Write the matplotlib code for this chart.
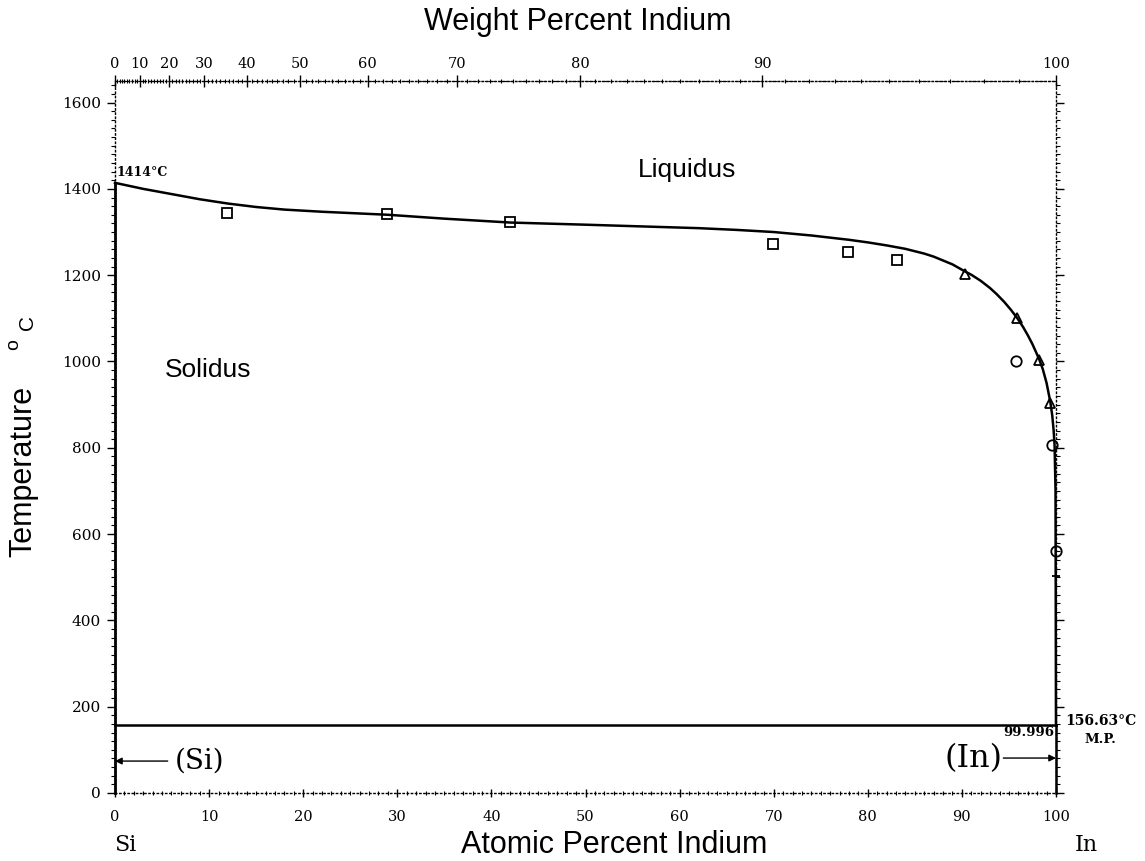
import numpy as np
import matplotlib
matplotlib.use('Agg')
import matplotlib.pyplot as plt
from matplotlib.ticker import MultipleLocator, FixedLocator

# --- data (atomic % In, deg C) ---
liq_x = [0, 3, 6, 9, 12, 15, 18, 22, 25, 29, 35, 42, 50, 56, 62, 66, 70,
         74, 78, 80, 82, 84, 86, 87, 88, 89, 90.3, 91, 92, 93, 93.7, 94.5,
         95.2, 95.9, 96.5, 97, 97.5, 98.2, 98.6, 99.0, 99.4, 99.6, 99.75,
         99.85, 99.95, 99.996]
liq_t = [1414, 1400, 1388, 1376, 1366, 1358, 1352, 1347, 1344, 1340, 1331,
         1322, 1317, 1313, 1309, 1305, 1300, 1292, 1282, 1276, 1269, 1261,
         1250, 1243, 1234, 1225, 1209, 1201, 1187, 1170, 1156, 1138, 1120,
         1100, 1080, 1061, 1040, 1006, 982, 950, 906, 875, 840, 805, 700,
         156.63]

sq_x = [11.9, 28.9, 42.0, 69.9, 77.9, 83.1]
sq_t = [1345, 1342, 1324, 1273, 1254, 1236]
tri_x = [90.3, 95.9, 98.2, 99.4]
tri_t = [1203, 1101, 1004, 904]
circ_x = [95.7, 99.6, 100.0]
circ_t = [1002, 807, 561]
plus_x = [99.95]
plus_t = [503]

si_mp = 1414
in_mp = 156.63
eut_x = 99.996

wt_ticks = [0, 10, 20, 30, 40, 50, 60, 70, 80, 90, 100]
at_ticks = [0, 10, 20, 30, 40, 50, 60, 70, 80, 90, 100]
t_ticks = [0, 200, 400, 600, 800, 1000, 1200, 1400, 1600]

M_SI = 28.0855
M_IN = 114.818


def wt_to_at(w):
    """weight % In -> atomic % In"""
    w = np.asarray(w, dtype=float)
    a = w / M_IN
    b = (100 - w) / M_SI
    return 100 * a / (a + b)


W, H = 1145, 861
fig = plt.figure(figsize=(W / 100, H / 100), dpi=100)
ax = fig.add_axes([115 / W, 1 - 793 / H, 941 / W, 712 / H])
ax.set_xlim(0, 100)
ax.set_ylim(0, 1650)

serif = 'DejaVu Serif'
sans = 'Liberation Sans'

# phase boundaries
ax.plot(liq_x, liq_t, color='k', lw=1.8, clip_on=False, zorder=3)
ax.plot([0, 0], [0, si_mp], color='k', lw=2.0, clip_on=False, zorder=3)
ax.plot([0, eut_x], [in_mp, in_mp], color='k', lw=1.8, clip_on=False, zorder=3)
ax.plot([eut_x, eut_x], [0, in_mp], color='k', lw=1.8, clip_on=False, zorder=3)

# experimental points
mk = dict(ls='none', mfc='none', mec='k', mew=1.3, clip_on=False, zorder=4)
ax.plot(sq_x, sq_t, marker='s', ms=7, **mk)
ax.plot(tri_x, tri_t, marker='^', ms=7, **mk)
ax.plot(circ_x, circ_t, marker='o', ms=7.5, **mk)
ax.plot(plus_x, plus_t, marker='+', ms=6, **mk)

# frame: dotted like the scanned original
for s in ax.spines.values():
    s.set_linestyle((0, (1, 2)))
    s.set_linewidth(1.0)

ax.xaxis.set_major_locator(FixedLocator(at_ticks))
ax.xaxis.set_minor_locator(MultipleLocator(1))
ax.yaxis.set_major_locator(FixedLocator(t_ticks))
ax.yaxis.set_minor_locator(MultipleLocator(20))
ax.tick_params(axis='y', which='major', direction='out', length=6, width=1,
               pad=4, labelsize=11, right=True)
ax.tick_params(axis='y', which='minor', direction='out', length=3, width=0.8,
               right=True)
ax.tick_params(axis='x', which='major', direction='inout', length=6, width=1,
               pad=9, labelsize=10.5)
ax.tick_params(axis='x', which='minor', direction='inout', length=2.5, width=0.8)
for lab in ax.get_xticklabels() + ax.get_yticklabels():
    lab.set_family(serif)

# top axis in weight percent
ax2 = ax.twiny()
ax2.set_xlim(0, 100)
ax2.set_xticks(wt_to_at(wt_ticks))
ax2.set_xticklabels([str(v) for v in wt_ticks], family=serif, fontsize=10.5)
ax2.xaxis.set_minor_locator(FixedLocator(wt_to_at(np.arange(0, 101, 1))))
ax2.tick_params(axis='x', which='major', direction='inout', length=8, width=1,
                pad=3)
ax2.tick_params(axis='x', which='minor', direction='inout', length=2.5, width=0.8)
for k in ['bottom', 'left', 'right']:
    ax2.spines[k].set_visible(False)
ax2.spines['top'].set_linestyle((0, (1, 2)))

# titles / labels
fig.text(578 / W, 1 - 22 / H, 'Weight Percent Indium', family=sans,
         fontsize=22, ha='center', va='center')
fig.text(614 / W, 1 - 845 / H, 'Atomic Percent Indium', family=sans,
         fontsize=22, ha='center', va='center')
fig.text(23 / W, 1 - 471 / H, 'Temperature', family=sans, fontsize=22,
         rotation=90, ha='center', va='center')
fig.text(14 / W, 1 - 345 / H, 'o', family=sans, fontsize=14,
         rotation=90, ha='center', va='center')
fig.text(27 / W, 1 - 322 / H, 'C', family=sans, fontsize=15,
         rotation=90, ha='center', va='center')
fig.text(125 / W, 1 - 845 / H, 'Si', family=serif, fontsize=16,
         ha='center', va='center')
fig.text(1086 / W, 1 - 845 / H, 'In', family=serif, fontsize=16,
         ha='center', va='center')

ax.text(60.8, 1444, 'Liquidus', family=sans, fontsize=19, ha='center', va='center')
ax.text(9.9, 980, 'Solidus', family=sans, fontsize=19, ha='center', va='center')

ax.text(0.2, 1437, '1414°C', family=serif, fontsize=9, weight='bold',
        ha='left', va='center')
ax.text(100.95, 168, '156.63°C', family=serif, fontsize=10, weight='bold',
        ha='left', va='center')
ax.text(104.7, 123, 'M.P.', family=serif, fontsize=9.5, weight='bold',
        ha='center', va='center')
ax.text(99.8, 141, '99.996', family=serif, fontsize=9.5, weight='bold',
        ha='right', va='center')

# phase field labels with arrows
ax.annotate('', xy=(0, 74), xytext=(5.6, 74),
            arrowprops=dict(arrowstyle='-|>', color='k', lw=1.0,
                            mutation_scale=10, shrinkA=0, shrinkB=0))
ax.text(6.3, 74, '(Si)', family=serif, fontsize=20, ha='left', va='center')
ax.annotate('', xy=(100, 81), xytext=(94.4, 81),
            arrowprops=dict(arrowstyle='-|>', color='k', lw=1.0,
                            mutation_scale=10, shrinkA=0, shrinkB=0))
ax.text(94.3, 81, '(In)', family=serif, fontsize=23, ha='right', va='center')

fig.savefig('out.png', dpi=100)
